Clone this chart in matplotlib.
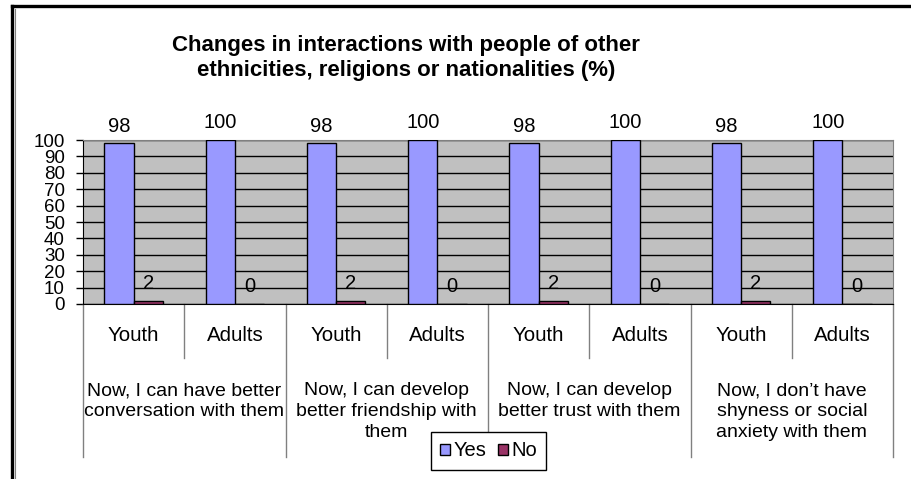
import matplotlib.pyplot as plt
from matplotlib.lines import Line2D
import matplotlib.transforms as mtransforms

plt.rcParams['font.family'] = ['Liberation Sans', 'DejaVu Sans']

groups = ["Now, I can have better\nconversation with them",
          "Now, I can develop\nbetter friendship with\nthem",
          "Now, I can develop\nbetter trust with them",
          "Now, I don\u2019t have\nshyness or social\nanxiety with them"]
ages = ["Youth", "Adults"]
yes = [98, 100, 98, 100, 98, 100, 98, 100]
no = [2, 0, 2, 0, 2, 0, 2, 0]

W, H = 911, 479
fig = plt.figure(figsize=(W / 100, H / 100), dpi=100)
ax = fig.add_axes([83 / W, 1 - 304 / H, 810 / W, 164 / H])
ax.set_facecolor("#C0C0C0")

x = list(range(len(yes)))
bw = 0.29
ax.bar([i - bw for i in x], yes, width=bw, align="edge", color="#9999FF",
       edgecolor="black", linewidth=1, label="Yes", zorder=3)
ax.bar(x, no, width=bw, align="edge", color="#993366",
       edgecolor="black", linewidth=1, label="No", zorder=3)

for i in x:
    ax.annotate(str(yes[i]), (i - bw / 2, yes[i]), xytext=(0, 5.5),
                textcoords="offset points", ha="center", va="bottom", fontsize=14.5)
    ax.annotate(str(no[i]), (i + bw / 2, no[i]), xytext=(0, 5.5),
                textcoords="offset points", ha="center", va="bottom", fontsize=14.5)

ax.set_xlim(-0.5, len(yes) - 0.5)
ax.set_ylim(0, 100)
ax.set_yticks(range(0, 101, 10))
ax.tick_params(axis="y", length=5, width=1, color="black", labelsize=13.5, pad=8)
ax.set_xticks([])
ax.yaxis.grid(True, color="black", linewidth=1, zorder=1)
ax.set_axisbelow(True)
for s in ("top", "right"):
    ax.spines[s].set_color("#808080")
ax.spines["left"].set_color("black")
ax.spines["bottom"].set_color("black")

# two-level category axis under the plot
trans = mtransforms.blended_transform_factory(ax.transData, ax.transAxes)
for i in x:
    ax.annotate(ages[i % 2], (i, 0), xycoords=trans, xytext=(0, -22.5),
                textcoords="offset points", ha="center", va="center", fontsize=14.8)
for g, label in enumerate(groups):
    ax.annotate(label, (2 * g + 0.5, 0), xycoords=trans, xytext=(0, -56.5),
                textcoords="offset points", ha="center", va="top", fontsize=14,
                linespacing=1.3)
for b in range(len(yes) + 1):
    edge = b - 0.5
    depth = -153 / 164 if b % 2 == 0 else -54 / 164
    ax.add_line(Line2D([edge, edge], [0, depth], transform=trans, color="#808080",
                       linewidth=1, clip_on=False))

fig.legend(loc="center", bbox_to_anchor=(488.5 / W, 1 - 451 / H), ncol=2,
           fontsize=14.5, frameon=True, fancybox=False, edgecolor="black",
           framealpha=1, handlelength=0.5, handleheight=0.5, handletextpad=0.15,
           columnspacing=0.6, borderpad=0.45, borderaxespad=0)

fig.text(406 / W, 1 - 58 / H,
         "Changes in interactions with people of other\nethnicities, religions or nationalities (%)",
         ha="center", va="center", fontsize=16, fontweight="bold", linespacing=1.2)

# outer chart frame (left and top edges)
fig.add_artist(Line2D([12 / W, 12 / W], [0, 1 - 6 / H], transform=fig.transFigure,
                      color="black", linewidth=2.4))
fig.add_artist(Line2D([12 / W, 1], [1 - 6 / H, 1 - 6 / H], transform=fig.transFigure,
                      color="black", linewidth=2.4))
fig.add_artist(Line2D([14.5 / W, 14.5 / W], [0, 1 - 8.5 / H], transform=fig.transFigure,
                      color="#808080", linewidth=0.8))

fig.savefig("out.png", dpi=100)
